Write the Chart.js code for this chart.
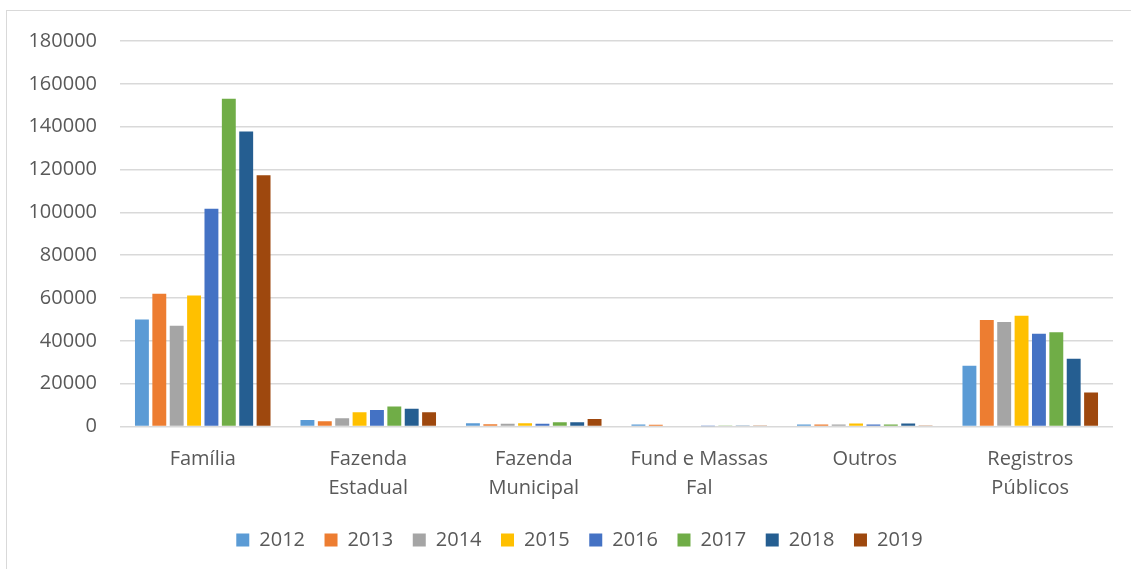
<!DOCTYPE html>
<html>
<head>
<meta charset="utf-8">
<script src="https://cdn.jsdelivr.net/npm/chart.js@4.4.1/dist/chart.umd.min.js"></script>
<style>
  html, body { margin: 0; padding: 0; background: #fff; overflow: hidden; }
  #frame { position: absolute; left: 6px; top: 10px; width: 1300px; height: 700px;
           border: 1.5px solid #d9d9d9; box-sizing: border-box; }
  #wrap { position: absolute; left: 0; top: 0; width: 1131px; height: 569px; }
</style>
</head>
<body>
<div id="frame"></div>
<div id="wrap"><canvas id="myChart"></canvas></div>
<script>
// categorias e séries
var categorias = ["Família", ["Fazenda", "Estadual"], ["Fazenda", "Municipal"], ["Fund e Massas", "Fal"], "Outros", ["Registros", "Públicos"]];
var anos = ["2012", "2013", "2014", "2015", "2016", "2017", "2018", "2019"];
var cores = ["#5B9BD5", "#ED7D31", "#A5A5A5", "#FFC000", "#4472C4", "#70AD47", "#255E91", "#9E480E"];

var v2012 = [50000, 3000, 1500, 900, 900, 28400];
var v2013 = [62000, 2500, 1000, 800, 900, 49700];
var v2014 = [47000, 3800, 1300, 300, 900, 48800];
var v2015 = [61200, 6700, 1500, 300, 1400, 51700];
var v2016 = [101700, 7700, 1300, 100, 900, 43300];
var v2017 = [153000, 9300, 2000, 500, 900, 44000];
var v2018 = [137800, 8300, 2000, 500, 1400, 31600];
var v2019 = [117300, 6700, 3500, 500, 500, 15900];
var series = [v2012, v2013, v2014, v2015, v2016, v2017, v2018, v2019];

var yTicks = [0, 20000, 40000, 60000, 80000, 100000, 120000, 140000, 160000, 180000];

var fonte = "'Open Sans', 'Liberation Sans', sans-serif";
var cinza = "#595959";

var datasets = anos.map(function (ano, i) {
  return {
    label: ano,
    data: series[i],
    backgroundColor: cores[i],
    barPercentage: 0.8,
    categoryPercentage: 0.84
  };
});

// desloca a legenda um pouco para a direita, como no original
var moverLegenda = {
  id: "moverLegenda",
  afterLayout: function (chart) {
    chart.legend.left += 23;
    chart.legend.right += 23;
  }
};

new Chart("myChart", {
  type: "bar",
  data: { labels: categorias, datasets: datasets },
  plugins: [moverLegenda],
  options: {
    responsive: true,
    maintainAspectRatio: false,
    animation: false,
    layout: { padding: { top: 41, right: 18, left: 0, bottom: 9 } },
    scales: {
      x: {
        grid: { display: false },
        border: { display: false },
        afterFit: function (scale) { scale.height = scale.height - 2; },
        ticks: { color: cinza, font: { family: fonte, size: 20, lineHeight: 1.45 }, padding: 10, maxRotation: 0, autoSkip: false }
      },
      y: {
        min: 0,
        max: 180000,
        afterBuildTicks: function (scale) {
          scale.ticks = yTicks.map(function (v) { return { value: v }; });
        },
        afterFit: function (scale) { scale.width = 120; },
        grid: { color: "#d9d9d9", lineWidth: 1.5, drawTicks: false },
        border: { display: false },
        ticks: {
          color: cinza, font: { family: fonte, size: 20 }, padding: 23,
          callback: function (v) { return String(v); }
        }
      }
    },
    plugins: {
      legend: {
        position: "bottom",
        labels: { color: cinza, font: { family: fonte, size: 20 }, boxWidth: 13, boxHeight: 13, padding: 19.5 }
      },
      tooltip: { enabled: false }
    }
  }
});
</script>
</body>
</html>
